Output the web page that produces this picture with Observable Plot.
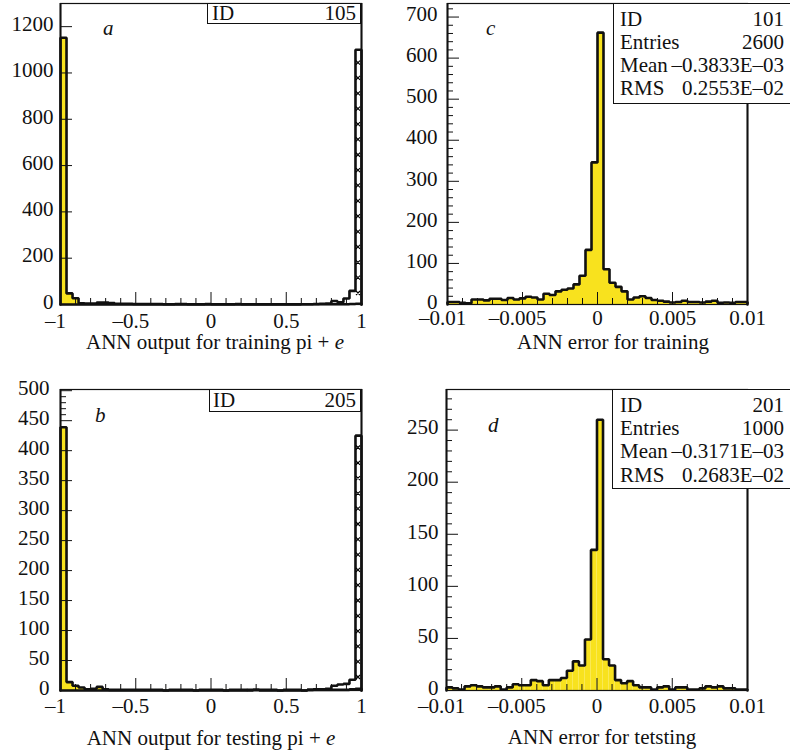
<!DOCTYPE html>
<html><head><meta charset="utf-8">
<script src="https://cdn.jsdelivr.net/npm/d3@7"></script>
<script src="https://cdn.jsdelivr.net/npm/@observablehq/plot@0.6"></script>
<style>
body{margin:0;background:#fff;}
#wrap{position:relative;width:790px;height:755px;overflow:hidden;font-family:"Liberation Serif","Times New Roman",serif;color:#111;background:#fff;}
.pl{position:absolute;}
.t{position:absolute;font-size:21px;line-height:21px;white-space:nowrap;}
.box{position:absolute;background:#fff;border:1.5px solid #111;box-sizing:border-box;font-size:21px;}
.row{display:flex;justify-content:space-between;white-space:nowrap;}
</style></head><body><div id="wrap"></div><script>
// ---------- data ----------
const outRange = [-1, 1];
const errRange = [-0.01, 0.01];

// panel a: ANN output, training (50 bins)
const aYellow = [1152,48,27,5,4,4,8,8,6,3,3,3,2,2,2,2,2,1,1,2,2,1,1,1,2,1,1,1,1,2,1,1,1,1,1,1,1,1,1,1,1,1,1,1,1,1,1,1,2,3];
const aHatched = [0,0,0,0,0,0,0,0,0,0,0,0,0,0,0,0,0,0,0,0,0,0,0,0,0,0,0,0,0,0,0,0,0,0,0,0,0,0,0,0,1,1,2,3,4,15,10,26,59,1100];
// panel b: ANN output, testing
const bYellow = [439,14,8,5,2,3,6,2,1,1,1,1,1,1,1,1,1,0,1,1,1,1,0,1,1,1,1,0,1,1,1,0,1,1,1,1,0,1,1,1,0,1,1,1,1,1,1,1,2,3];
const bHatched = [0,0,0,0,0,0,0,0,0,0,0,0,0,0,0,0,0,0,0,0,0,0,0,0,0,0,0,0,0,0,0,1,1,0,0,0,0,0,0,0,0,1,2,2,3,8,10,11,18,425];
// panel c: ANN error, training
const cVals = [6,6,4,3,12,12,10,14,14,11,16,12,15,19,17,12,26,23,32,36,39,49,70,133,346,662,86,53,43,32,12,17,20,16,11,9,7,5,6,9,6,6,5,7,9,4,5,4,6,6];
// panel d: ANN error, testing
const dVals = [3,2,1,4,5,4,3,3,4,1,3,6,5,5,10,9,5,10,10,12,19,28,24,49,135,260,30,24,10,7,9,5,3,3,1,3,4,1,3,3,1,1,2,4,3,4,2,2,1,1];

// ticks
const outTicks = [-1,-0.5,0,0.5,1];
const outTickLabels = ["–1","–0.5","0","0.5","1"];
const outMinor = [-0.9,-0.8,-0.7,-0.6,-0.4,-0.3,-0.2,-0.1,0.1,0.2,0.3,0.4,0.6,0.7,0.8,0.9];
const errTicks = [-0.01,-0.005,0,0.005,0.01];
const errTickLabels = ["–0.01","–0.005","0","0.005","0.01"];
const errMinor = [-0.009,-0.008,-0.007,-0.006,-0.004,-0.003,-0.002,-0.001,0.001,0.002,0.003,0.004,0.006,0.007,0.008,0.009];
const aYTicks = [0,200,400,600,800,1000,1200];
const aYMinor = [];
const bYTicks = [0,50,100,150,200,250,300,350,400,450,500];
const bYMinor = [460,470,480,490];
const cYTicks = [0,100,200,300,400,500,600,700];
const cYMinor = [20,40,60,80,120,140,160,180,220,240,260,280,320,340,360,380,420,440,460,480,520,540,560,580,620,640,660,680,720];
const dYTicks = [0,50,100,150,200,250];
const dYMinor = [10,20,30,40,60,70,80,90,110,120,130,140,160,170,180,190,210,220,230,240,260,270,280];

// texts
const statsA = [["ID","105"]];
const statsB = [["ID","205"]];
const statsC = [["ID","101"],["Entries","2600"],["Mean","–0.3833E–03"],["RMS","0.2553E–02"]];
const statsD = [["ID","201"],["Entries","1000"],["Mean","–0.3171E–03"],["RMS","0.2683E–02"]];
const labelA = ["ANN output for training pi + ", "e"];
const labelB = ["ANN output for testing pi + ", "e"];
const labelC = ["ANN error for training", ""];
const labelD = ["ANN error for tetsting", ""];

const YELLOW = "#f8e21e";
const INK = "#111";
const HATCH_KEY = "#010203";
// ---------- helpers ----------
function binsOf(vals, range) {
  const w = (range[1]-range[0])/vals.length;
  return vals.map((v,i)=>({x1: range[0]+i*w, x2: range[0]+(i+1)*w, y: v}));
}
function outlineOf(vals, range) {
  const w = (range[1]-range[0])/vals.length;
  const pts = [{x: range[0], y: 0}];
  vals.forEach((v,i)=>{ pts.push({x: range[0]+i*w, y: v}, {x: range[0]+(i+1)*w, y: v}); });
  pts.push({x: range[1], y: 0});
  return pts;
}
const wrap = document.getElementById("wrap");
function addText(html, x, baseline, align, italic) {
  const d = document.createElement("div");
  d.className = "t";
  d.innerHTML = html;
  d.style.top = (baseline - 17.6) + "px";
  if (align === "center") { d.style.left = x + "px"; d.style.transform = "translateX(-50%)"; }
  else d.style.left = x + "px";
  if (italic) d.style.fontStyle = "italic";
  wrap.appendChild(d);
}
function addBox(rows, left, top, width, height, padTop, lineH, padL, padR) {
  const b = document.createElement("div");
  b.className = "box";
  Object.assign(b.style, {left: left+"px", top: top+"px", width: width+"px", height: height+"px", paddingTop: padTop+"px"});
  rows.forEach(r => {
    const row = document.createElement("div");
    row.className = "row";
    Object.assign(row.style, {lineHeight: lineH+"px", paddingLeft: padL+"px", paddingRight: padR+"px"});
    row.innerHTML = `<span>${r[0]}</span><span>${r[1]}</span>`;
    b.appendChild(row);
  });
  wrap.appendChild(b);
}
// cross-hatch decoration: small "x" glyphs stacked inside each hatched bar (drawn on top)
function hatchBars(svg, gap, step) {
  const ns = "http://www.w3.org/2000/svg";
  svg.querySelectorAll("g").forEach(g => {
    const f = (g.getAttribute("fill") || "").toLowerCase().replace(/\s/g,"");
    if (f !== HATCH_KEY && f !== "rgb(1,2,3)") return;
    g.setAttribute("fill", "#fff");
    const hg = document.createElementNS(ns, "g");
    hg.setAttribute("stroke", "#000");
    hg.setAttribute("stroke-width", "1.1");
    hg.setAttribute("fill", "none");
    const tr = g.getAttribute("transform");
    if (tr) hg.setAttribute("transform", tr);
    let d = "";
    g.querySelectorAll("rect").forEach(r => {
      const x = +r.getAttribute("x"), y = +r.getAttribute("y");
      const w = +r.getAttribute("width"), h = +r.getAttribute("height");
      const cx = x + w/2, bottom = y + h, s = 2.0;
      for (let cy = bottom - gap; cy > y + 4; cy -= step) {
        d += `M${cx-s},${cy-s}L${cx+s},${cy+s}M${cx+s},${cy-s}L${cx-s},${cy+s}`;
      }
    });
    const path = document.createElementNS(ns, "path");
    path.setAttribute("d", d);
    hg.appendChild(path);
    svg.appendChild(hg);
  });
}

function drawPanel(p) {
  const fmt = d => p.xLabels[p.xTicks.indexOf(d)];
  const neg = p.xTicks.filter(d => d < 0), nonneg = p.xTicks.filter(d => d >= 0);
  const marks = [];
  p.series.forEach(s => marks.push(Plot.rectY(binsOf(s.values, p.xDomain), {x1:"x1", x2:"x2", y:"y", fill: s.fill, inset: 0})));
  p.series.forEach(s => marks.push(Plot.line(outlineOf(s.values, p.xDomain), {x:"x", y:"y", stroke: INK, strokeWidth: 2.6, strokeLinejoin: "miter"})));
  marks.push(Plot.frame({stroke: INK, strokeWidth: 1.2}));
  marks.push(Plot.ruleX(p.xDomain, {stroke: INK, strokeWidth: 2}));
  marks.push(Plot.axisY(p.yTicks, {tickSize: 12, dx: 12, tickFormat: () => "", label: null, stroke: INK}));
  if (p.yMinor.length) marks.push(Plot.axisY(p.yMinor, {tickSize: 6, dx: 6, tickFormat: () => "", label: null, stroke: INK}));
  marks.push(Plot.axisY(p.yTicks, {tickSize: 0, tickPadding: p.yPad, dy: -2.5, tickFormat: d => String(d), label: null, fontSize: 21, fill: INK}));
  marks.push(Plot.axisX(p.xTicks, {tickSize: 12, dy: -12, tickFormat: () => "", label: null, stroke: INK}));
  marks.push(Plot.axisX(p.xMinor, {tickSize: 6, dy: -6, tickFormat: () => "", label: null, stroke: INK}));
  marks.push(Plot.axisX(neg, {tickSize: 0, tickPadding: p.xPad, dx: -5, tickFormat: fmt, label: null, fontSize: 21, fill: INK}));
  marks.push(Plot.axisX(nonneg, {tickSize: 0, tickPadding: p.xPad, tickFormat: fmt, label: null, fontSize: 21, fill: INK}));
  const svg = Plot.plot({
    width: p.width, height: p.height,
    marginTop: p.mt, marginBottom: p.mb, marginLeft: p.ml, marginRight: p.mr,
    x: {domain: p.xDomain}, y: {domain: p.yDomain},
    style: {fontFamily: "'Liberation Serif','Times New Roman',serif", fontSize: "21px", background: "transparent", overflow: "visible", color: INK},
    marks
  });
  if (p.hatch) hatchBars(svg, p.hatch.gap, p.hatch.step);
  const div = document.createElement("div");
  div.className = "pl";
  div.style.left = p.left + "px"; div.style.top = p.top + "px";
  div.appendChild(svg);
  wrap.appendChild(div);
}

// ---------- panels ----------
drawPanel({left: 0, top: 0, width: 395, height: 370, mt: 3, mb: 66, ml: 60, mr: 34,
  xDomain: outRange, yDomain: [0,1300], xTicks: outTicks, xLabels: outTickLabels, xMinor: outMinor,
  yTicks: aYTicks, yMinor: aYMinor, yPad: 7, xPad: 9, hatch: {gap: 11, step: 15.36},
  series: [{values: aYellow, fill: YELLOW}, {values: aHatched, fill: HATCH_KEY}]});
drawPanel({left: 0, top: 370, width: 395, height: 385, mt: 19, mb: 65, ml: 60, mr: 34,
  xDomain: outRange, yDomain: [0,502], xTicks: outTicks, xLabels: outTickLabels, xMinor: outMinor,
  yTicks: bYTicks, yMinor: bYMinor, yPad: 11, xPad: 8, hatch: {gap: 13, step: 15.3},
  series: [{values: bYellow, fill: YELLOW}, {values: bHatched, fill: HATCH_KEY}]});
drawPanel({left: 395, top: 0, width: 395, height: 370, mt: 3, mb: 66, ml: 52, mr: 43,
  xDomain: errRange, yDomain: [0,733], xTicks: errTicks, xLabels: errTickLabels, xMinor: errMinor,
  yTicks: cYTicks, yMinor: cYMinor, yPad: 10, xPad: 6,
  series: [{values: cVals, fill: YELLOW}]});
drawPanel({left: 395, top: 370, width: 395, height: 385, mt: 19, mb: 65, ml: 51, mr: 43,
  xDomain: errRange, yDomain: [0,289], xTicks: errTicks, xLabels: errTickLabels, xMinor: errMinor,
  yTicks: dYTicks, yMinor: dYMinor, yPad: 8, xPad: 8,
  series: [{values: dVals, fill: YELLOW}]});

// boxes
addBox(statsA, 207, 3, 154, 21, 0, 18, 4, 4);
addBox(statsB, 209, 389, 152, 23, 0, 20, 3, 4);
addBox(statsC, 613, 3, 180, 101, 3.5, 23.2, 6, 8);
addBox(statsD, 612, 389, 181, 100, 3.5, 23.4, 7, 8);

// panel letters
addText("a", 103, 36, "left", true);
addText("c", 486, 36, "left", true);
addText("b", 95, 423, "left", true);
addText("d", 488, 433, "left", true);

// axis titles
const lab = l => l[0] + (l[1] ? `<i>${l[1]}</i>` : "");
addText(lab(labelA), 215, 350, "center");
addText(lab(labelC), 613, 350, "center");
addText(lab(labelB), 211, 746, "center");
addText(lab(labelD), 602, 745, "center");
</script></body></html>
